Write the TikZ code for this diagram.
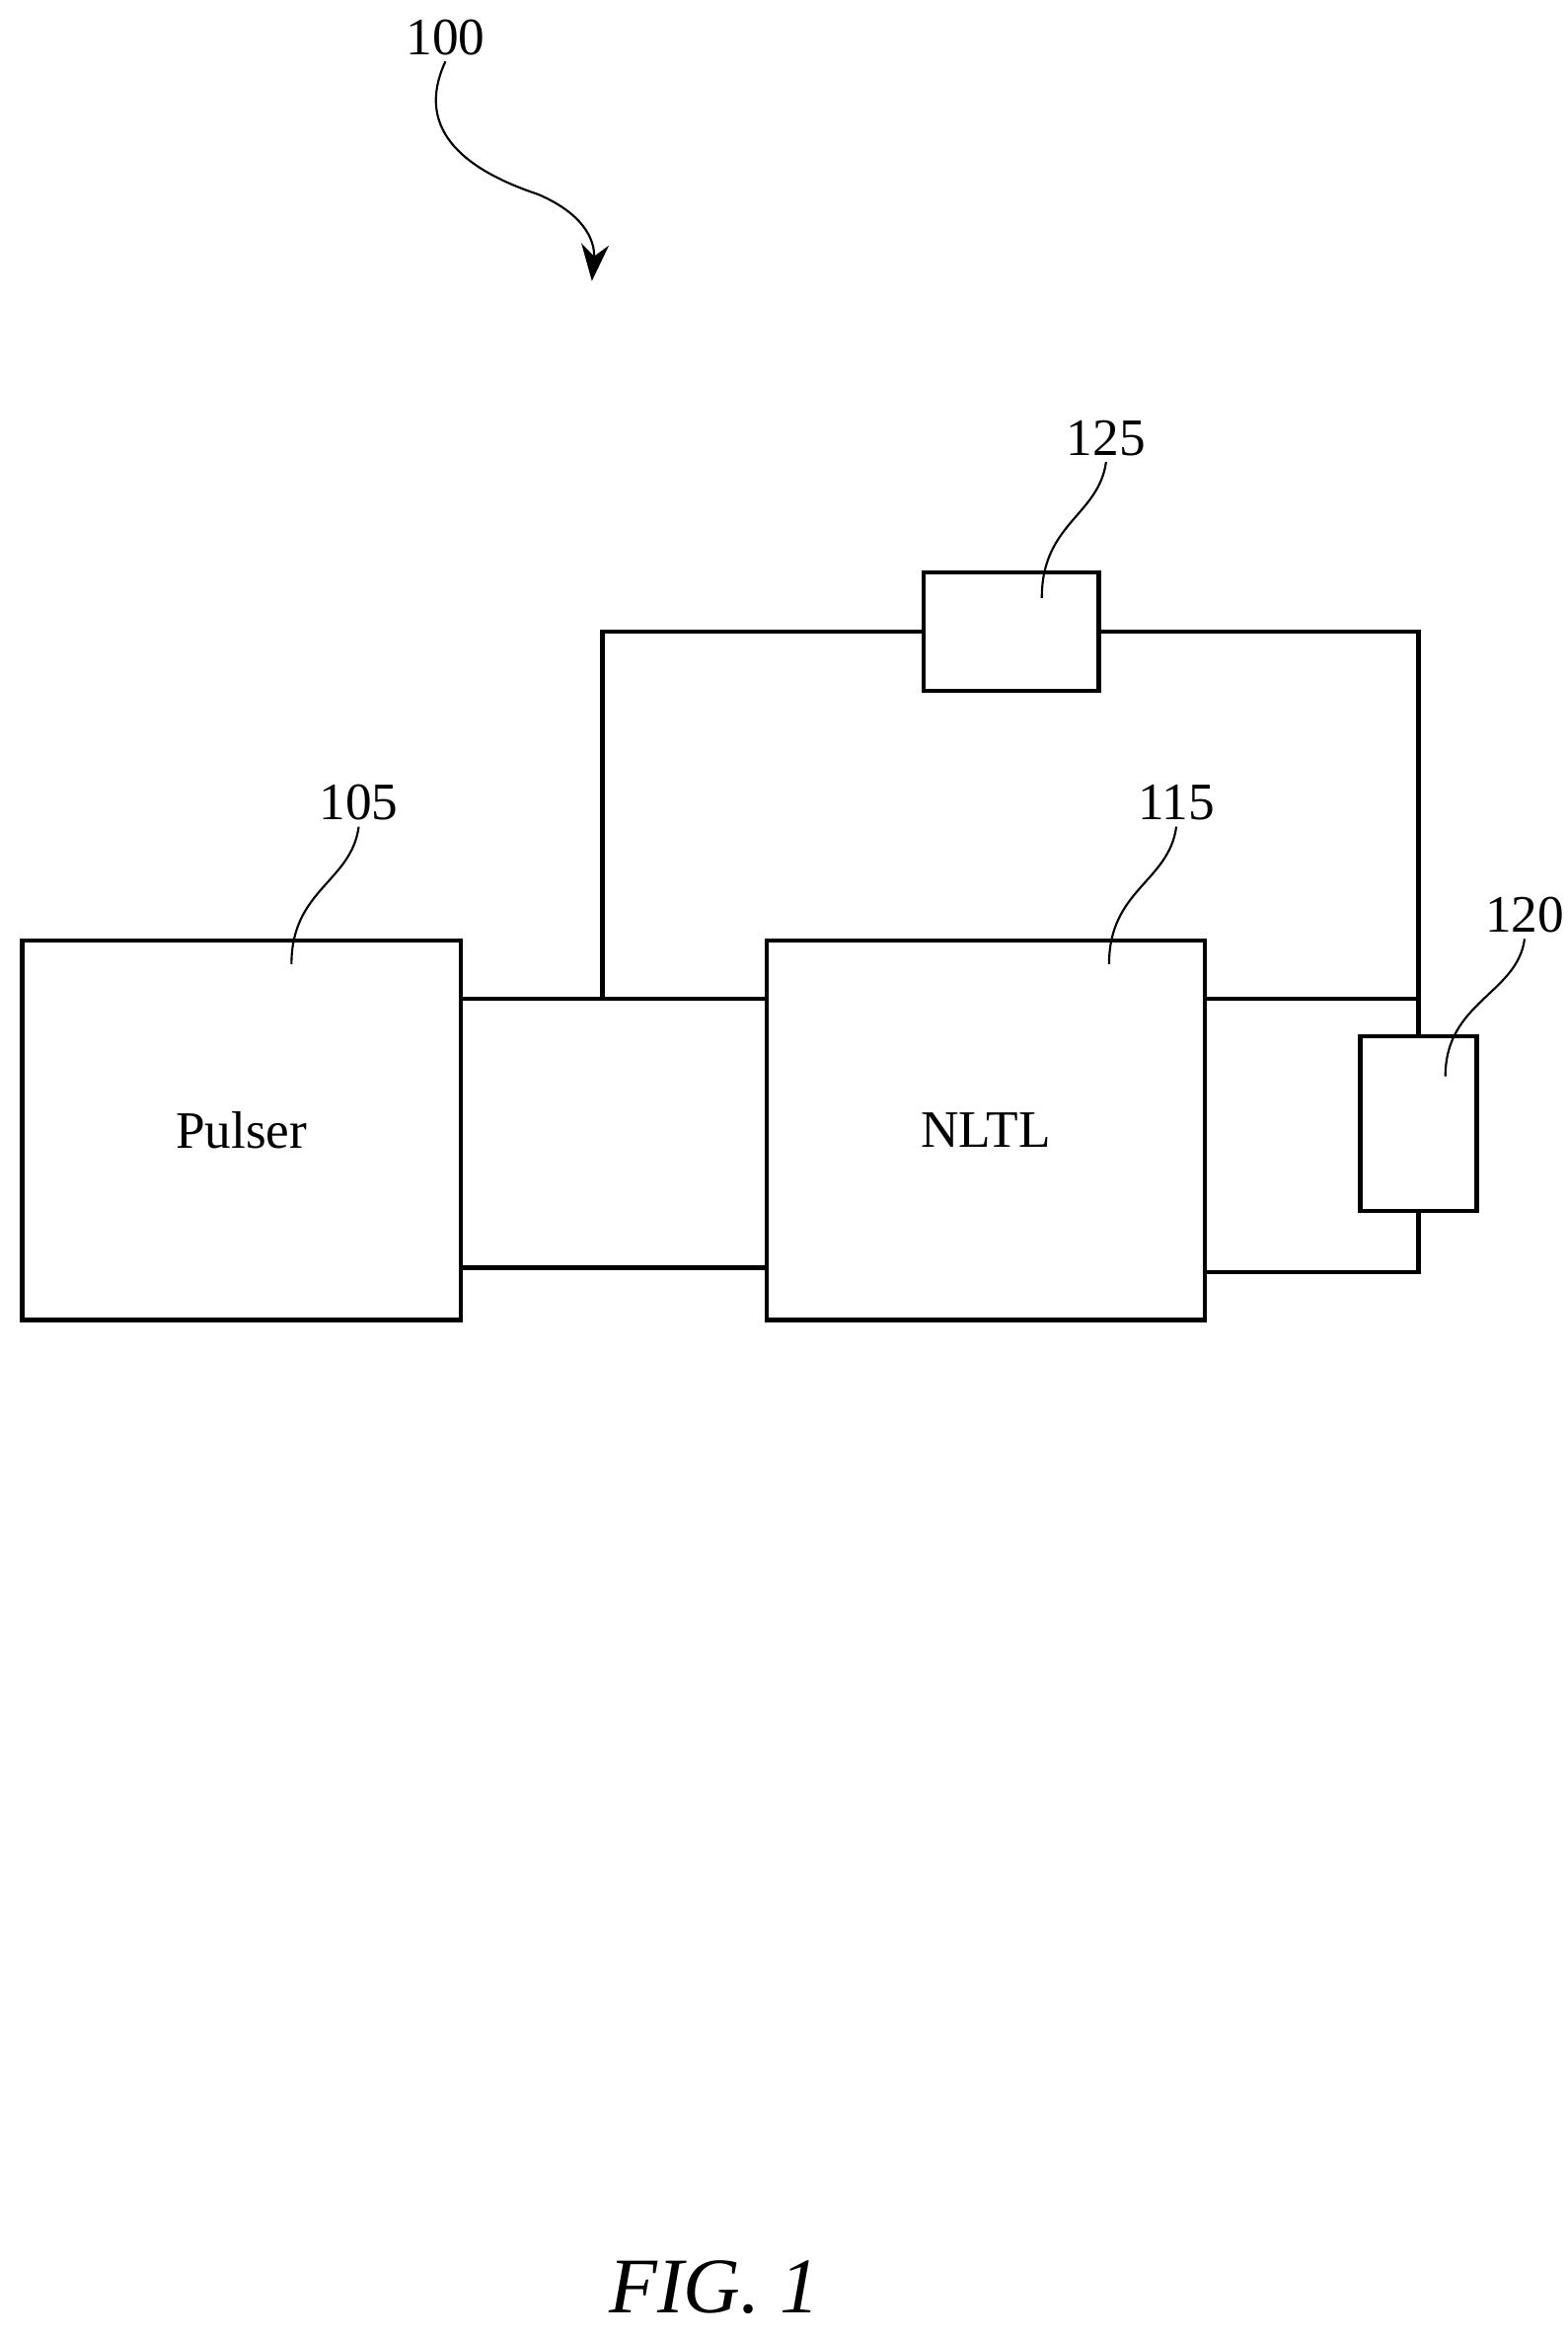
\documentclass[tikz,border=0pt]{standalone}
\usepackage{fontspec}
\setmainfont{Liberation Serif}
\usetikzlibrary{arrows.meta}
\tikzset{
  blk/.style={draw,thick,inner sep=0},
  lbl/.style={font=\fontsize{10}{12}\selectfont,inner sep=1pt},
  lead/.style={thin},
  wire/.style={thick}
}
\begin{document}
\begin{tikzpicture}[x=0.01cm,y=-0.01cm]
    \useasboundingbox (0,0) rectangle (1049,1564);
    % blocks
    \node[blk,minimum width=2.93cm,minimum height=2.54cm] (pulser) at (161.5,756) {\fontsize{10}{12}\selectfont Pulser};
    \node[blk,minimum width=2.93cm,minimum height=2.54cm] (nltl) at (659.5,756) {\fontsize{10}{12}\selectfont NLTL};
    \node[blk,minimum width=1.17cm,minimum height=0.79cm] (b125) at (676.5,422.5) {};
    \node[blk,minimum width=0.78cm,minimum height=1.17cm] (b120) at (949,751.5) {};
    \coordinate (tap) at (403,668);
    \coordinate (rtap) at (949,668);

    % wires
    \draw[wire] (pulser.east |- 0,668) -- (nltl.west |- 0,668);
    \draw[wire] (pulser.east |- 0,848) -- (nltl.west |- 0,848);
    \draw[wire] (tap) |- (b125.west);
    \draw[wire] (b125.east) -| (rtap);
    \draw[wire] (nltl.east |- rtap) -- (rtap) -- (b120.north);
    \draw[wire] (nltl.east |- 0,851) -| (b120.south);

    % labels
    \node[lbl] (n100) at (298,25) {100};
    \draw[lead,-{Stealth[length=7pt]}] (n100.south) .. controls (280,80) and (300,110) .. (360,130) .. controls (395,145) and (398,165) .. (396,188);
    \node[lbl] (n125) at (740,293) {125};
    \draw[lead] (n125.south) .. controls (735,345) and (697,350) .. (697,400);
    \node[lbl] (n105) at (240,537) {105};
    \draw[lead] (n105.south) .. controls (235,590) and (195,595) .. (195,645);
    \node[lbl] (n115) at (787,537) {115};
    \draw[lead] (n115.south) .. controls (782,590) and (742,595) .. (742,645);
    \node[lbl] (n120) at (1020,612) {120};
    \draw[lead] (n120.south) .. controls (1015,665) and (967,670) .. (967,720);

    \node[font=\fontsize{15}{18}\selectfont\itshape] (fig) at (478,1530) {FIG. 1};
\end{tikzpicture}
\end{document}
